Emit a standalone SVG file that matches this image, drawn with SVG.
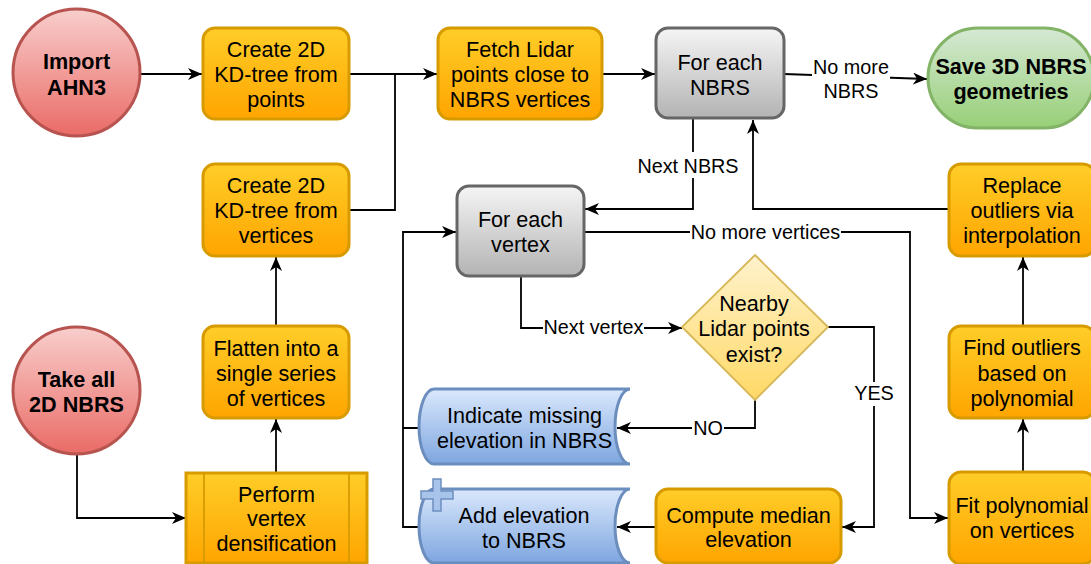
<svg xmlns="http://www.w3.org/2000/svg" width="1091" height="564" viewBox="0 0 1091 564">
<style>
text{font-family:"Liberation Sans",Arial,sans-serif;fill:#000;text-anchor:middle}
.n{font-size:21.6px}
.b{font-size:21.6px;font-weight:bold}
.l{font-size:19.8px}
.e{fill:none;stroke:#000;stroke-width:1.8;marker-end:url(#arr)}
.ln{fill:none;stroke:#000;stroke-width:1.8}
.or{fill:url(#gOr);stroke:#d79b00;stroke-width:3}
.gr{fill:url(#gGr);stroke:#666;stroke-width:3}
.rd{fill:url(#gRd);stroke:#b85450;stroke-width:3}
.gn{fill:url(#gGn);stroke:#82b366;stroke-width:3}
.yl{fill:url(#gYl);stroke:#d6b656;stroke-width:1.8}
.bl{fill:url(#gBl);stroke:#6c8ebf;stroke-width:3}
.lbg{fill:#fff}
</style>
<defs>
<linearGradient id="gOr" x1="0" y1="0" x2="0" y2="1"><stop offset="0" stop-color="#ffcd28"/><stop offset="1" stop-color="#ffa500"/></linearGradient>
<linearGradient id="gGr" x1="0" y1="0" x2="0" y2="1"><stop offset="0" stop-color="#f5f5f5"/><stop offset="1" stop-color="#b3b3b3"/></linearGradient>
<linearGradient id="gRd" x1="0" y1="0" x2="0" y2="1"><stop offset="0" stop-color="#f8cecc"/><stop offset="1" stop-color="#ea6b66"/></linearGradient>
<linearGradient id="gGn" x1="0" y1="0" x2="0" y2="1"><stop offset="0" stop-color="#d5e8d4"/><stop offset="1" stop-color="#97d077"/></linearGradient>
<linearGradient id="gYl" x1="0" y1="0" x2="0" y2="1"><stop offset="0" stop-color="#fff2cc"/><stop offset="1" stop-color="#ffd966"/></linearGradient>
<linearGradient id="gBl" x1="0" y1="0" x2="0" y2="1"><stop offset="0" stop-color="#dae8fc"/><stop offset="1" stop-color="#7ea6e0"/></linearGradient>
<marker id="arr" viewBox="0 0 14 12" refX="14" refY="6" markerWidth="14" markerHeight="12" markerUnits="userSpaceOnUse" orient="auto">
<path d="M0,0 L14,6 L0,12 L4,6 z" fill="#000"/>
</marker>
</defs>

<g id="connectors">
<path class="e" d="M141,74 H202"/>
<path class="e" d="M349,74 H437"/>
<path class="ln" d="M349,210 H395 V74"/>
<path class="e" d="M602,74 H655"/>
<path class="e" d="M784,74 L927,79"/>
<rect class="lbg" x="812" y="58" width="78" height="46"/>
<text class="l" x="851" y="74">No more</text>
<text class="l" x="851" y="98">NBRS</text>
<path class="e" d="M693,119 V209 H585"/>
<rect class="lbg" x="636" y="152" width="104" height="26"/>
<text class="l" x="688" y="172.5">Next NBRS</text>
<path class="e" d="M949,209 H753 V120"/>
<path class="e" d="M584,232 H910 V518 H948"/>
<rect class="lbg" x="690" y="222" width="151" height="22"/>
<text class="l" x="765.5" y="239">No more vertices</text>
<path class="e" d="M521,277 V328 H682"/>
<rect class="lbg" x="543" y="318" width="101" height="22"/>
<text class="l" x="593.5" y="333.5">Next vertex</text>
<path class="e" d="M755,400 V428 H617"/>
<rect class="lbg" x="692" y="418" width="32" height="22"/>
<text class="l" x="708" y="435">NO</text>
<path class="e" d="M828,327 H874 V527 H842"/>
<rect class="lbg" x="853" y="382" width="42" height="24"/>
<text class="l" x="874" y="400">YES</text>
<path class="e" d="M656,527 H617"/>
<path class="e" d="M419,428 H403 V232 H456"/>
<path class="ln" d="M419,527 H403 V428"/>
<path class="e" d="M1023,472 V419"/>
<path class="e" d="M1023,326 V257"/>
<path class="e" d="M77,455 V518 H186"/>
<path class="e" d="M276,473 V419"/>
<path class="e" d="M276,326 V257"/>
</g>

<g id="import-ahn3">
<circle class="rd" cx="76.5" cy="72.5" r="63.5"/>
<text class="b" x="76.5" y="69">Import</text>
<text class="b" x="76.5" y="94.5">AHN3</text>
</g>

<g id="create-kd-points">
<rect class="or" x="203" y="28" width="146" height="91" rx="12"/>
<text class="n" x="276" y="57">Create 2D</text>
<text class="n" x="276" y="82">KD-tree from</text>
<text class="n" x="276" y="107">points</text>
</g>

<g id="create-kd-vertices">
<rect class="or" x="203" y="164" width="146" height="92" rx="12"/>
<text class="n" x="276" y="193">Create 2D</text>
<text class="n" x="276" y="218">KD-tree from</text>
<text class="n" x="276" y="243">vertices</text>
</g>

<g id="fetch-lidar">
<rect class="or" x="438" y="28" width="164" height="91" rx="12"/>
<text class="n" x="520" y="57">Fetch Lidar</text>
<text class="n" x="520" y="82">points close to</text>
<text class="n" x="520" y="107">NBRS vertices</text>
</g>

<g id="for-each-nbrs">
<rect class="gr" x="656" y="28" width="128" height="90" rx="12"/>
<text class="n" x="720" y="70">For each</text>
<text class="n" x="720" y="95">NBRS</text>
</g>

<g id="save-3d">
<rect class="gn" x="928" y="28" width="166" height="100" rx="50"/>
<text class="b" x="1011" y="74">Save 3D NBRS</text>
<text class="b" x="1011" y="99">geometries</text>
</g>

<g id="for-each-vertex">
<rect class="gr" x="457" y="186" width="127" height="90" rx="12"/>
<text class="n" x="520.5" y="227">For each</text>
<text class="n" x="520.5" y="252">vertex</text>
</g>

<g id="replace-outliers">
<rect class="or" x="949" y="164" width="146" height="92" rx="12"/>
<text class="n" x="1022" y="193">Replace</text>
<text class="n" x="1022" y="218">outliers via</text>
<text class="n" x="1022" y="243">interpolation</text>
</g>

<g id="nearby-lidar">
<polygon class="yl" points="755,255 828,327 755,400 682,327"/>
<text class="n" x="754" y="311">Nearby</text>
<text class="n" x="754" y="336">Lidar points</text>
<text class="n" x="754" y="361.5">exist?</text>
</g>

<g id="find-outliers">
<rect class="or" x="949" y="326" width="146" height="92" rx="12"/>
<text class="n" x="1022" y="355">Find outliers</text>
<text class="n" x="1022" y="380.5">based on</text>
<text class="n" x="1022" y="406">polynomial</text>
</g>

<g id="fit-polynomial">
<rect class="or" x="949" y="472" width="146" height="92" rx="12"/>
<text class="n" x="1022" y="513">Fit polynomial</text>
<text class="n" x="1022" y="538">on vertices</text>
</g>

<g id="take-all-nbrs">
<circle class="rd" cx="76.5" cy="390.5" r="63.5"/>
<text class="b" x="76.5" y="386.5">Take all</text>
<text class="b" x="76.5" y="412">2D NBRS</text>
</g>

<g id="flatten">
<rect class="or" x="203" y="326" width="146" height="92" rx="12"/>
<text class="n" x="276" y="355.5">Flatten into a</text>
<text class="n" x="276" y="380.5">single series</text>
<text class="n" x="276" y="406">of vertices</text>
</g>

<g id="densification">
<rect class="or" x="186" y="473" width="181" height="90"/>
<line x1="204" y1="473" x2="204" y2="563" stroke="#d79b00" stroke-width="1.8"/>
<line x1="349" y1="473" x2="349" y2="563" stroke="#d79b00" stroke-width="1.8"/>
<text class="n" x="276.5" y="501.5">Perform</text>
<text class="n" x="276.5" y="526">vertex</text>
<text class="n" x="276.5" y="551">densification</text>
</g>

<g id="indicate-missing">
<path class="bl" d="M434,389 H630 A15,37.5 0 0 0 630,464 H434 A15,37.5 0 0 1 434,389 Z"/>
<text class="n" x="524.5" y="423">Indicate missing</text>
<text class="n" x="524.5" y="448">elevation in NBRS</text>
</g>

<g id="add-elevation">
<path class="bl" d="M434,489 H630 A15,37 0 0 0 630,563 H434 A15,37 0 0 1 434,489 Z"/>
<path d="M433,479 H441 V491 H453 V499 H441 V511 H433 V499 H421 V491 H433 Z" fill="#a9c4eb" stroke="#6c8ebf" stroke-width="1.5"/>
<text class="n" x="524" y="523">Add elevation</text>
<text class="n" x="524" y="548">to NBRS</text>
</g>

<g id="compute-median">
<rect class="or" x="656" y="489" width="185" height="74" rx="12"/>
<text class="n" x="748.5" y="523">Compute median</text>
<text class="n" x="748.5" y="547">elevation</text>
</g>
</svg>
